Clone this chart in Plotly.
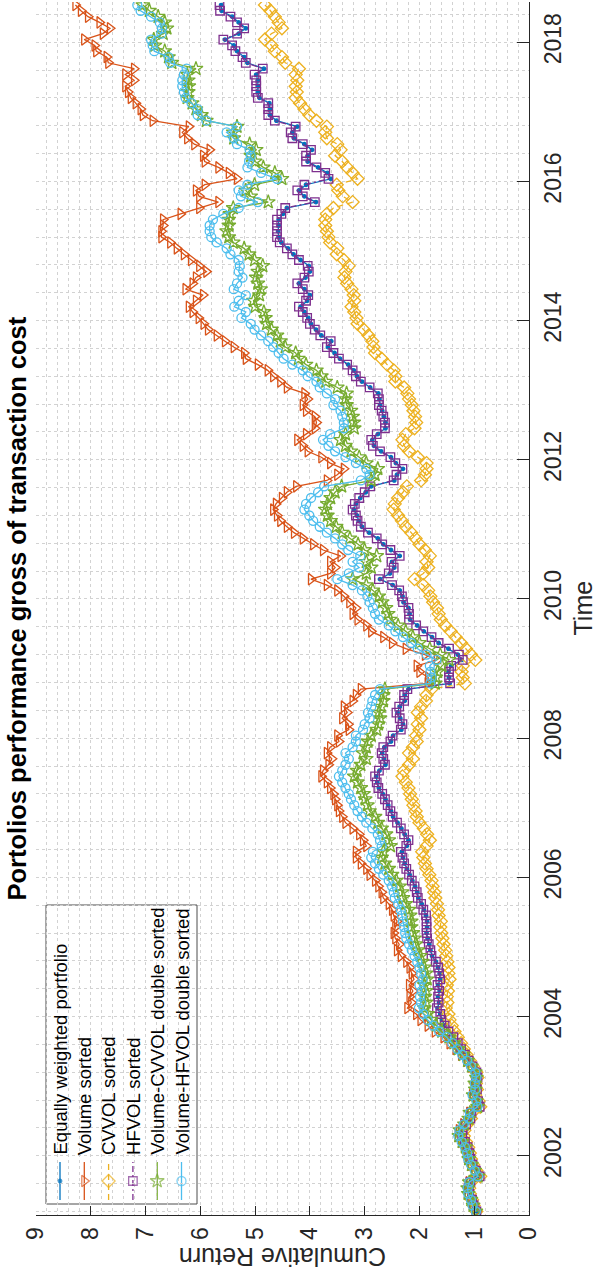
import plotly.graph_objects as go

# ---------------- data (monthly, Mar 2001 .. Jul 2018) ----------------
start_year, start_month, n_points = 2001, 3, 209
dates = []
for k in range(n_points):
    m = start_month - 1 + k
    dates.append(f"{start_year + m // 12}-{m % 12 + 1:02d}-15")

equally_weighted = [
    0.96, 1.01, 1.04, 1.09, 1.10, 1.07, 0.91, 0.97, 1.03, 1.07,
    1.09, 1.12, 1.17, 1.22, 1.21, 1.15, 1.07, 1.05, 0.91, 0.93, 0.99, 0.96,
    0.97, 0.94, 0.96, 1.03, 1.10, 1.17, 1.23, 1.29, 1.37, 1.46, 1.53, 1.59,
    1.62, 1.67, 1.64, 1.66, 1.63, 1.66, 1.62, 1.63, 1.66, 1.70, 1.77, 1.80,
    1.82, 1.85, 1.87, 1.86, 1.86, 1.88, 1.92, 1.96, 2.02, 2.04, 2.08, 2.13,
    2.18, 2.23, 2.27, 2.30, 2.32, 2.23, 2.20, 2.27, 2.33, 2.40, 2.48, 2.52,
    2.57, 2.62, 2.67, 2.74, 2.77, 2.79, 2.73, 2.62, 2.65, 2.68, 2.64, 2.52,
    2.48, 2.33, 2.30, 2.35, 2.40, 2.36, 2.27, 2.27, 2.20, 1.45, 1.46, 1.47,
    1.42, 1.23, 1.30, 1.47, 1.65, 1.77, 1.92, 2.04, 2.17, 2.18, 2.20, 2.29,
    2.31, 2.36, 2.49, 2.72, 2.54, 2.46, 2.50, 2.36, 2.52, 2.66, 2.76, 2.92,
    3.05, 3.11, 3.14, 3.20, 3.16, 3.08, 2.98, 2.88, 2.46, 2.41, 2.30, 2.43,
    2.52, 2.70, 2.83, 2.86, 2.76, 2.62, 2.62, 2.65, 2.68, 2.72, 2.73, 2.75,
    2.90, 3.05, 3.14, 3.20, 3.30, 3.45, 3.55, 3.67, 3.61, 3.79, 3.89, 3.98,
    4.03, 4.10, 4.17, 4.05, 4.00, 4.10, 4.20, 4.08, 4.00, 4.02, 4.17, 4.30,
    4.40, 4.52, 4.57, 4.58, 4.57, 4.57, 4.49, 4.42, 3.89, 4.10, 4.20, 4.07,
    3.62, 3.68, 3.85, 4.04, 4.04, 3.96, 4.10, 4.29, 4.32, 4.23, 4.61, 4.73,
    4.73, 4.74, 4.92, 4.95, 4.95, 4.95, 4.98, 4.84, 5.14, 5.20, 5.33, 5.39,
    5.55, 5.30, 5.17, 5.30, 5.42, 5.61, 5.62,
]

volume_sorted = [
    0.97, 1.03, 1.07, 1.12, 1.13, 1.10, 0.94, 1.00, 1.07, 1.12,
    1.14, 1.18, 1.24, 1.30, 1.28, 1.20, 1.11, 1.09, 0.95, 0.97, 1.04, 0.99,
    0.99, 0.96, 0.98, 1.06, 1.14, 1.24, 1.34, 1.45, 1.56, 1.72, 1.85, 1.98,
    2.06, 2.22, 2.15, 2.18, 2.12, 2.19, 2.10, 2.14, 2.18, 2.24, 2.34, 2.41,
    2.37, 2.44, 2.47, 2.44, 2.41, 2.47, 2.50, 2.56, 2.66, 2.69, 2.75, 2.81,
    2.91, 2.97, 3.07, 3.16, 3.16, 2.97, 3.03, 3.10, 3.22, 3.35, 3.41, 3.47,
    3.50, 3.54, 3.57, 3.63, 3.69, 3.79, 3.76, 3.66, 3.60, 3.69, 3.63, 3.47,
    3.50, 3.29, 3.30, 3.41, 3.32, 3.38, 3.22, 3.16, 3.07, 1.85, 1.84, 2.00,
    2.05, 1.68, 1.90, 2.25, 2.50, 2.66, 2.88, 2.97, 3.13, 3.22, 3.16, 3.28,
    3.38, 3.50, 3.69, 3.98, 3.63, 3.54, 3.63, 3.44, 3.76, 3.94, 4.13, 4.29,
    4.42, 4.54, 4.60, 4.67, 4.62, 4.51, 4.42, 4.25, 3.69, 3.50, 3.38, 3.63,
    3.79, 4.04, 4.13, 4.23, 4.07, 3.91, 3.88, 3.91, 4.07, 4.13, 4.04, 4.10,
    4.42, 4.54, 4.67, 4.77, 4.95, 5.17, 5.20, 5.39, 5.55, 5.70, 5.86, 5.94,
    6.03, 6.14, 6.21, 6.08, 5.95, 6.27, 6.14, 6.08, 5.89, 6.02, 6.17, 6.30,
    6.43, 6.55, 6.71, 6.71, 6.68, 6.68, 6.36, 6.02, 5.67, 6.02, 6.08, 5.92,
    5.33, 5.48, 5.67, 5.92, 5.95, 5.83, 6.11, 6.24, 6.33, 6.21, 6.87, 7.05,
    7.09, 7.18, 7.27, 7.32, 7.37, 7.21, 7.37, 7.21, 7.68, 7.71, 7.90, 7.93,
    8.12, 7.78, 7.65, 7.84, 8.05, 8.18, 8.28,
]

cvvol_sorted = [
    0.96, 1.01, 1.04, 1.08, 1.09, 1.06, 0.89, 0.96, 1.02, 1.06,
    1.08, 1.11, 1.15, 1.19, 1.18, 1.13, 1.06, 1.04, 0.89, 0.92, 0.98, 0.95,
    0.97, 0.94, 0.96, 1.02, 1.08, 1.14, 1.19, 1.24, 1.30, 1.36, 1.41, 1.45,
    1.47, 1.52, 1.49, 1.50, 1.48, 1.50, 1.45, 1.47, 1.47, 1.49, 1.51, 1.53,
    1.56, 1.58, 1.60, 1.62, 1.61, 1.65, 1.66, 1.68, 1.71, 1.73, 1.76, 1.78,
    1.82, 1.87, 1.90, 1.93, 1.95, 1.87, 1.81, 1.86, 1.92, 2.00, 2.05, 2.07,
    2.11, 2.14, 2.17, 2.20, 2.25, 2.31, 2.28, 2.19, 2.12, 2.19, 2.12, 2.05,
    2.06, 2.00, 2.03, 1.97, 2.03, 1.97, 1.88, 1.87, 1.78, 1.17, 1.21, 1.23,
    1.21, 0.98, 1.06, 1.15, 1.24, 1.34, 1.43, 1.53, 1.61, 1.65, 1.68, 1.75,
    1.80, 1.84, 1.93, 2.09, 1.93, 1.84, 1.87, 1.81, 1.90, 2.00, 2.07, 2.15,
    2.25, 2.32, 2.39, 2.47, 2.45, 2.39, 2.30, 2.23, 1.97, 1.90, 1.87, 1.87,
    2.03, 2.19, 2.28, 2.31, 2.25, 2.09, 2.06, 2.08, 2.11, 2.14, 2.19, 2.22,
    2.28, 2.44, 2.44, 2.47, 2.59, 2.69, 2.81, 2.84, 2.86, 2.93, 3.02, 3.13,
    3.15, 3.19, 3.24, 3.19, 3.20, 3.24, 3.32, 3.37, 3.35, 3.29, 3.38, 3.51,
    3.50, 3.63, 3.66, 3.69, 3.72, 3.72, 3.69, 3.57, 3.22, 3.40, 3.48, 3.51,
    3.13, 3.22, 3.32, 3.41, 3.54, 3.44, 3.50, 3.69, 3.72, 3.69, 3.88, 4.01,
    4.10, 4.18, 4.26, 4.24, 4.26, 4.23, 4.26, 4.20, 4.45, 4.51, 4.64, 4.70,
    4.82, 4.70, 4.51, 4.57, 4.64, 4.72, 4.82,
]

hfvol_sorted = [
    0.96, 1.01, 1.04, 1.09, 1.10, 1.07, 0.90, 0.97, 1.03, 1.07,
    1.09, 1.12, 1.17, 1.22, 1.21, 1.15, 1.07, 1.05, 0.90, 0.93, 0.99, 0.95,
    0.97, 0.94, 0.96, 1.03, 1.10, 1.17, 1.24, 1.30, 1.38, 1.47, 1.54, 1.60,
    1.62, 1.68, 1.65, 1.66, 1.64, 1.67, 1.62, 1.64, 1.66, 1.70, 1.78, 1.80,
    1.83, 1.86, 1.87, 1.87, 1.87, 1.88, 1.93, 1.97, 2.03, 2.05, 2.09, 2.14,
    2.19, 2.24, 2.28, 2.31, 2.34, 2.24, 2.20, 2.28, 2.34, 2.41, 2.49, 2.53,
    2.58, 2.63, 2.68, 2.75, 2.78, 2.81, 2.74, 2.63, 2.66, 2.69, 2.66, 2.53,
    2.49, 2.34, 2.31, 2.36, 2.42, 2.37, 2.28, 2.28, 2.22, 1.44, 1.46, 1.46,
    1.42, 1.21, 1.28, 1.46, 1.65, 1.78, 1.93, 2.06, 2.19, 2.19, 2.20, 2.30,
    2.32, 2.37, 2.50, 2.74, 2.56, 2.47, 2.51, 2.36, 2.53, 2.68, 2.78, 2.94,
    3.07, 3.13, 3.16, 3.22, 3.18, 3.10, 3.00, 2.90, 2.47, 2.42, 2.31, 2.44,
    2.53, 2.72, 2.85, 2.88, 2.78, 2.63, 2.63, 2.66, 2.69, 2.74, 2.74, 2.76,
    2.91, 3.07, 3.16, 3.22, 3.32, 3.47, 3.57, 3.69, 3.62, 3.81, 3.91, 4.00,
    4.05, 4.13, 4.20, 4.07, 4.03, 4.13, 4.23, 4.10, 4.02, 4.04, 4.20, 4.32,
    4.42, 4.55, 4.60, 4.60, 4.60, 4.60, 4.52, 4.45, 3.91, 4.13, 4.23, 4.10,
    3.66, 3.72, 3.88, 4.07, 4.07, 3.98, 4.13, 4.32, 4.35, 4.26, 4.64, 4.76,
    4.76, 4.76, 4.95, 4.98, 4.98, 4.98, 5.01, 4.86, 5.17, 5.23, 5.36, 5.42,
    5.58, 5.33, 5.20, 5.33, 5.45, 5.64, 5.65,
]

volume_cvvol = [
    0.97, 1.02, 1.06, 1.11, 1.12, 1.09, 0.93, 0.99, 1.05, 1.10,
    1.12, 1.16, 1.22, 1.28, 1.26, 1.18, 1.10, 1.08, 0.94, 0.96, 1.02, 0.98,
    0.99, 0.96, 0.98, 1.05, 1.12, 1.20, 1.29, 1.37, 1.46, 1.59, 1.69, 1.79,
    1.85, 1.91, 1.88, 1.90, 1.88, 1.91, 1.86, 1.88, 1.91, 1.95, 1.98, 2.03,
    2.07, 2.09, 2.12, 2.15, 2.15, 2.17, 2.19, 2.25, 2.30, 2.32, 2.36, 2.42,
    2.50, 2.56, 2.63, 2.69, 2.66, 2.53, 2.56, 2.61, 2.69, 2.76, 2.81, 2.91,
    2.95, 2.99, 3.02, 3.07, 3.13, 3.19, 3.14, 3.07, 2.97, 3.03, 2.97, 2.94,
    2.88, 2.78, 2.75, 2.72, 2.74, 2.70, 2.66, 2.66, 2.63, 1.71, 1.70, 1.67,
    1.59, 1.46, 1.62, 1.81, 2.00, 2.12, 2.25, 2.39, 2.53, 2.57, 2.61, 2.68,
    2.74, 2.85, 2.97, 3.22, 2.97, 2.88, 2.97, 2.78, 3.00, 3.12, 3.27, 3.41,
    3.52, 3.62, 3.68, 3.72, 3.68, 3.62, 3.54, 3.42, 2.88, 2.81, 2.76, 2.97,
    3.10, 3.25, 3.35, 3.44, 3.35, 3.19, 3.20, 3.22, 3.25, 3.33, 3.35, 3.33,
    3.50, 3.71, 3.79, 3.88, 4.07, 4.21, 4.26, 4.45, 4.54, 4.60, 4.70, 4.79,
    4.81, 4.84, 5.00, 5.03, 4.92, 4.90, 4.95, 4.98, 4.95, 4.86, 5.01, 5.11,
    5.20, 5.40, 5.48, 5.52, 5.48, 5.48, 5.46, 5.40, 4.76, 5.08, 5.17, 5.01,
    4.51, 4.64, 4.85, 5.00, 5.08, 4.98, 5.10, 5.39, 5.40, 5.33, 5.89, 5.98,
    6.08, 6.15, 6.24, 6.22, 6.21, 6.22, 6.24, 6.08, 6.52, 6.58, 6.65, 6.83,
    6.85, 6.68, 6.61, 6.65, 6.77, 6.93, 7.05,
]

volume_hfvol = [
    0.97, 1.03, 1.06, 1.11, 1.12, 1.09, 0.93, 0.99, 1.06, 1.11,
    1.13, 1.17, 1.23, 1.29, 1.27, 1.19, 1.10, 1.08, 0.94, 0.96, 1.03, 0.98,
    0.99, 0.96, 0.98, 1.06, 1.13, 1.22, 1.31, 1.40, 1.50, 1.64, 1.75, 1.85,
    1.93, 2.01, 1.97, 1.99, 1.96, 2.00, 1.94, 1.97, 2.00, 2.04, 2.09, 2.14,
    2.19, 2.24, 2.26, 2.28, 2.30, 2.32, 2.34, 2.39, 2.45, 2.47, 2.50, 2.56,
    2.66, 2.74, 2.81, 2.88, 2.85, 2.69, 2.72, 2.76, 2.86, 2.97, 3.05, 3.13,
    3.19, 3.25, 3.29, 3.35, 3.41, 3.47, 3.41, 3.35, 3.29, 3.35, 3.22, 3.16,
    3.16, 3.03, 3.00, 2.91, 2.94, 2.88, 2.86, 2.81, 2.72, 1.80, 1.78, 1.80,
    1.81, 1.69, 1.87, 2.03, 2.15, 2.30, 2.44, 2.56, 2.74, 2.81, 2.85, 2.91,
    2.95, 3.05, 3.22, 3.50, 3.29, 3.10, 3.22, 3.08, 3.30, 3.41, 3.54, 3.69,
    3.82, 3.94, 4.01, 4.10, 4.07, 3.98, 3.85, 3.74, 3.07, 2.91, 2.97, 3.16,
    3.35, 3.54, 3.66, 3.76, 3.63, 3.38, 3.38, 3.41, 3.44, 3.57, 3.54, 3.69,
    3.82, 3.88, 4.04, 4.13, 4.32, 4.48, 4.57, 4.67, 4.76, 4.89, 5.01, 5.08,
    5.25, 5.17, 5.38, 5.30, 5.17, 5.39, 5.33, 5.23, 5.30, 5.28, 5.30, 5.45,
    5.52, 5.70, 5.80, 5.83, 5.83, 5.77, 5.58, 5.30, 4.95, 5.26, 5.30, 5.14,
    4.60, 4.89, 5.14, 5.11, 5.08, 5.10, 5.33, 5.39, 5.52, 5.33, 5.89, 6.05,
    6.05, 6.16, 6.27, 6.30, 6.33, 6.33, 6.30, 6.25, 6.55, 6.58, 6.84, 6.87,
    6.90, 6.71, 6.70, 6.74, 6.90, 7.09, 7.15,
]

series_names = [
    "Equally weighted portfolio",
    "Volume sorted",
    "CVVOL sorted",
    "HFVOL sorted",
    "Volume-CVVOL double sorted",
    "Volume-HFVOL double sorted",
]
series_values = [equally_weighted, volume_sorted, cvvol_sorted,
                 hfvol_sorted, volume_cvvol, volume_hfvol]
for s in series_values:
    assert len(s) == n_points, len(s)

value_ticks = list(range(0, 10))
title_text = "Portolios performance gross of transaction cost"
xlabel_text = "Time"
ylabel_text = "Cumulative Return"

# ---------------- styles ----------------
colors = ["#0072BD", "#D95319", "#EDB120", "#7E2F8E", "#77AC30", "#4DBEEE"]
symbols = ["circle", "triangle-right-open", "diamond-open", "square-open",
           "star-open", "circle-open"]
msizes = [3.5, 10, 10, 8.5, 10.5, 9]
dashes = ["solid", "solid", "6px,4px", "6px,3px,2px,3px", "solid", "solid"]
LW = 1.3
FONT = "Liberation Sans, Arial, Helvetica, sans-serif"
AX = "#262626"
GRID = "#d2d2d2"

W, H = 597, 1274
L, R, T, B = 36, 529, 2, 1215          # plot area in pixels


def px(xp):
    return (xp - L) / (R - L)


def py(yp):
    return (B - yp) / (B - T)


fig = go.Figure()
for name, vals, c, sym, ms, dash in zip(series_names, series_values, colors,
                                        symbols, msizes, dashes):
    fig.add_trace(go.Scatter(
        x=vals, y=dates, mode="lines+markers", name=name,
        line=dict(color=c, width=LW, dash=dash),
        marker=dict(symbol=sym, size=ms, color=c,
                    line=dict(color=c, width=LW)),
        showlegend=False,
    ))

fig.update_layout(
    width=W, height=H,
    margin=dict(l=L, r=W - R, t=T, b=H - B, pad=0),
    paper_bgcolor="white", plot_bgcolor="white",
    font=dict(family=FONT, color=AX),
    showlegend=False,
)

fig.update_xaxes(
    range=[9, 0], tickvals=value_ticks, ticks="inside", ticklen=9,
    tickcolor=AX, tickwidth=1, showline=True, linecolor=AX, linewidth=1,
    tickangle=-90, tickfont=dict(size=23, color=AX), ticklabelstandoff=2,
    showgrid=True, gridcolor=GRID, griddash="dot", gridwidth=1,
    zeroline=False,
    minor=dict(dtick=0.2, tick0=0, showgrid=True, gridcolor=GRID,
               griddash="dot", gridwidth=1, ticks=""),
)
fig.update_yaxes(
    type="date", side="right", range=["2001-02-24", "2018-07-31"],
    dtick="M24", tick0="2002-01-01", tickformat="%Y",
    ticks="inside", ticklen=12, tickcolor=AX, tickwidth=1,
    showline=True, linecolor=AX, linewidth=1,
    tickangle=-90, tickfont=dict(size=23, color=AX), ticklabelstandoff=3,
    showgrid=True, gridcolor=GRID, griddash="dot", gridwidth=1,
    zeroline=False,
    minor=dict(dtick=0.4 * 365.25 * 86400000, tick0="2002-01-01",
               showgrid=True, gridcolor=GRID, griddash="dot", gridwidth=1,
               ticks=""),
)

annotations = [
    dict(text="<b>" + title_text + "</b>", x=px(16), y=py(608.5),
         xref="paper", yref="paper", showarrow=False, textangle=-90,
         xanchor="center", yanchor="middle",
         font=dict(size=25.5, color="black", family=FONT)),
    dict(text=xlabel_text, x=px(582), y=py(608.5), xref="paper",
         yref="paper", showarrow=False, textangle=-90,
         xanchor="center", yanchor="middle",
         font=dict(size=25, color=AX, family=FONT)),
    dict(text=ylabel_text, x=px(282.5), y=py(1257), xref="paper",
         yref="paper", showarrow=False, textangle=180,
         xanchor="center", yanchor="middle",
         font=dict(size=25, color=AX, family=FONT)),
]

# ---------------- rotated legend ----------------
leg_x0, leg_x1, leg_y0, leg_y1 = 46, 197, 905, 1204
col0, col_step = 60, 24.3
line_top, line_bot, marker_y, text_bottom = 1162, 1200, 1181, 1157
shapes = [dict(type="rect", xref="paper", yref="paper",
               x0=px(leg_x0), x1=px(leg_x1), y0=py(leg_y1), y1=py(leg_y0),
               fillcolor="white", line=dict(color="#4d4d4d", width=1),
               layer="between")]
leg_cols = [col0 + col_step * j for j in range(len(series_names))]
for j, (name, c, dash) in enumerate(zip(series_names, colors, dashes)):
    cx = leg_cols[j]
    shapes.append(dict(type="line", xref="paper", yref="paper",
                       x0=px(cx), x1=px(cx), y0=py(line_bot), y1=py(line_top),
                       line=dict(color=c, width=LW, dash=dash),
                       layer="between"))
    annotations.append(dict(text=name, x=px(cx), y=py(text_bottom),
                            xref="paper", yref="paper", showarrow=False,
                            textangle=-90, xanchor="center",
                            yanchor="bottom",
                            font=dict(size=18.5, color="black", family=FONT)))

fig.add_trace(go.Scatter(
    x=leg_cols, y=[marker_y] * len(leg_cols), xaxis="x2", yaxis="y2",
    mode="markers", showlegend=False, hoverinfo="skip",
    marker=dict(symbol=symbols, size=msizes, color=colors,
                line=dict(color=colors, width=LW)),
))
fig.update_layout(
    xaxis2=dict(overlaying="x", range=[L, R], visible=False),
    yaxis2=dict(overlaying="y", range=[B, T], visible=False),
    shapes=shapes, annotations=annotations,
)

fig.write_html("out.html")
